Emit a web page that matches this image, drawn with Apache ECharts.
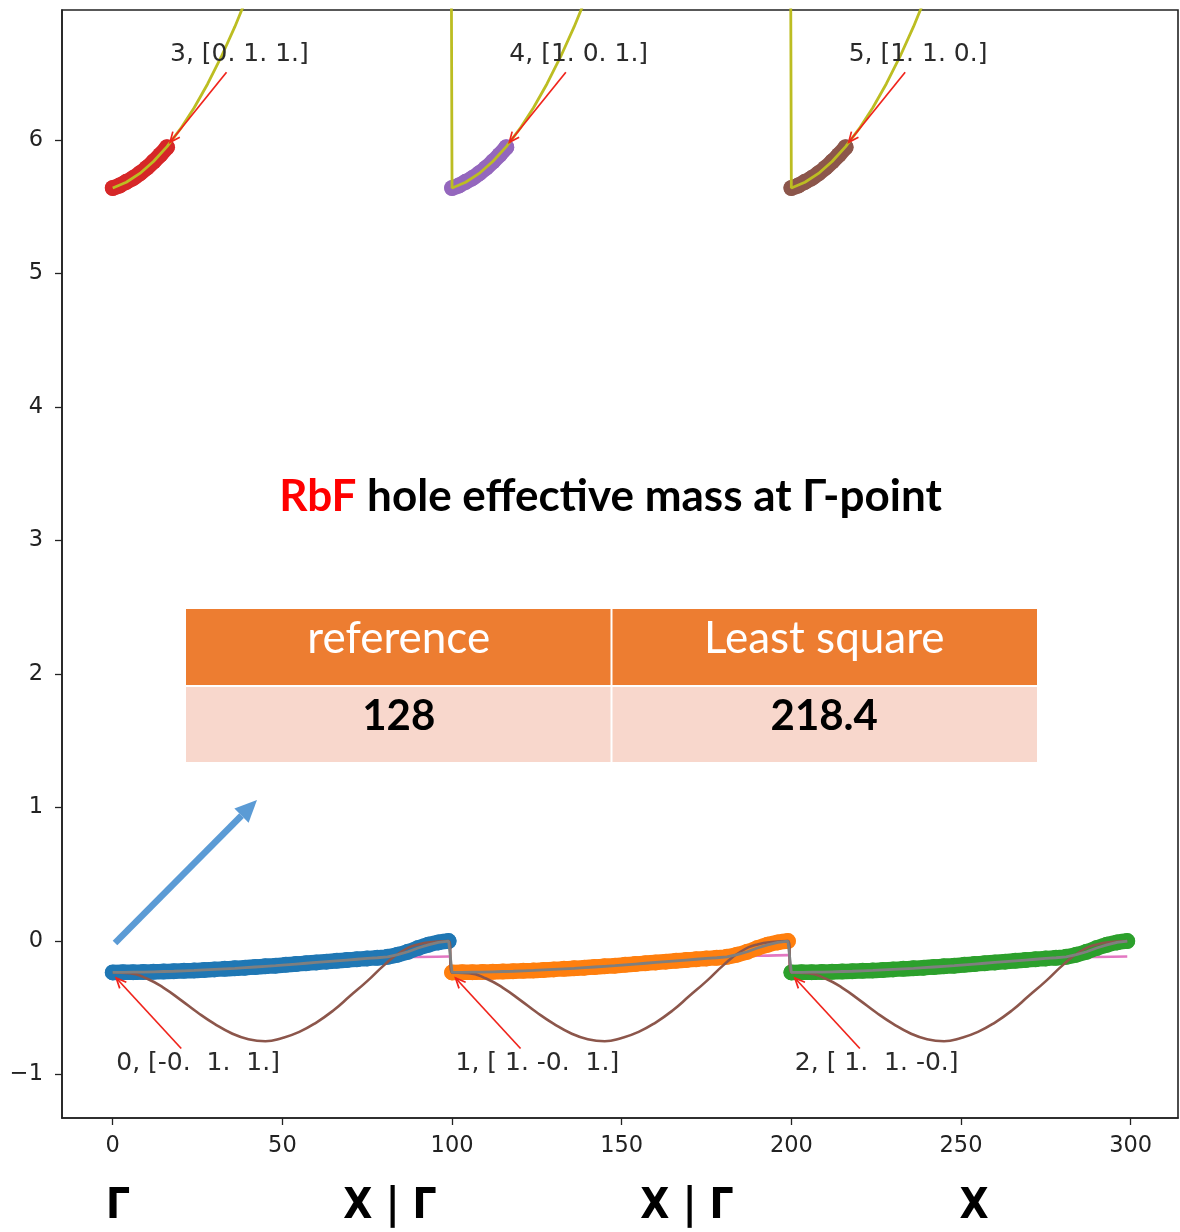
<!DOCTYPE html>
<html>
<head>
<meta charset="utf-8">
<script src="https://cdn.jsdelivr.net/npm/echarts@6/dist/echarts.min.js"></script>
<style>
  html, body { margin: 0; padding: 0; background: #fff; }
  #chart { width: 1180px; height: 1232px; }
</style>
</head>
<body>
<div id="chart"></div>
<script>
// ---- data ----------------------------------------------------------------
// start of each k-path segment along the x axis
const segStart = [0, 100, 200];

// lower valence band k-points (x offset inside a segment)
const lowX = [0, 3, 6, 9, 12, 15, 18, 21, 24, 27, 30, 33, 36, 39, 42, 45, 48, 51,
              54, 57, 60, 63, 66, 69, 72, 75, 78, 81, 84, 87, 90, 93, 96, 99];
const bandBlue = [-0.235, -0.234, -0.233, -0.232, -0.230, -0.228, -0.226, -0.223, -0.220,
                  -0.216, -0.212, -0.208, -0.204, -0.199, -0.194, -0.189, -0.184, -0.178,
                  -0.172, -0.166, -0.160, -0.154, -0.148, -0.142, -0.136, -0.130, -0.125,
                  -0.118, -0.102, -0.080, -0.052, -0.028, -0.010, 0.000];
const bandOrange = [-0.235, -0.234, -0.233, -0.232, -0.230, -0.228, -0.226, -0.223, -0.220,
                    -0.216, -0.212, -0.208, -0.204, -0.199, -0.194, -0.189, -0.184, -0.178,
                    -0.172, -0.166, -0.160, -0.154, -0.148, -0.142, -0.136, -0.130, -0.125,
                    -0.118, -0.102, -0.080, -0.052, -0.028, -0.010, 0.000];
const bandGreen = [-0.235, -0.234, -0.233, -0.232, -0.230, -0.228, -0.226, -0.223, -0.220,
                   -0.216, -0.212, -0.208, -0.204, -0.199, -0.194, -0.189, -0.184, -0.178,
                   -0.172, -0.166, -0.160, -0.154, -0.148, -0.142, -0.136, -0.130, -0.125,
                   -0.118, -0.102, -0.080, -0.052, -0.028, -0.010, 0.000];

// upper (conduction) band k-points near each segment start
const upX = [0, 2, 4, 6, 8, 10, 12, 14, 16];
const bandRed    = [5.640, 5.658, 5.686, 5.714, 5.750, 5.790, 5.838, 5.888, 5.945];
const bandPurple = [5.640, 5.658, 5.686, 5.714, 5.750, 5.790, 5.838, 5.888, 5.945];
const bandBrown  = [5.640, 5.658, 5.686, 5.714, 5.750, 5.790, 5.838, 5.888, 5.945];

// conduction band line per segment (runs off the top of the plot)
const oliveX   = [0, 4, 8, 12, 16, 20, 24, 28, 32, 36, 40, 44, 48, 99];
const oliveSeg = [5.640, 5.683, 5.749, 5.838, 5.950, 6.084, 6.241, 6.421, 6.623,
                  6.848, 7.096, 7.366, 7.660, 13.40];

// cosine-type model curve per segment
const cosX   = [0, 5, 10, 15, 20, 25, 30, 35, 40, 45, 50, 55, 60, 65, 70, 75, 80, 85, 90, 95, 99];
const cosSeg = [-0.235, -0.240, -0.280, -0.350, -0.440, -0.535, -0.620, -0.690, -0.735, -0.750,
                -0.725, -0.680, -0.610, -0.520, -0.410, -0.300, -0.180, -0.080, -0.025, -0.005, 0.000];

// parabolic fit per segment
const fitX = [0, 10, 20, 30, 40, 50, 60, 70, 80, 90, 99];
const fitA = [-0.235, -0.225, -0.212, -0.198, -0.183, -0.168, -0.153, -0.139, -0.127, -0.119, -0.115];
const fitB = [-0.235, -0.224, -0.210, -0.195, -0.179, -0.163, -0.147, -0.132, -0.119, -0.110, -0.105];
const fitC = [-0.235, -0.225, -0.212, -0.198, -0.183, -0.168, -0.153, -0.139, -0.127, -0.119, -0.115];

const xTicks = [0, 50, 100, 150, 200, 250, 300];
const yTicks = [-1, 0, 1, 2, 3, 4, 5, 6];

const lowLabels = ['0, [-0.  1.  1.]', '1, [ 1. -0.  1.]', '2, [ 1.  1. -0.]'];
const upLabels  = ['3, [0. 1. 1.]', '4, [1. 0. 1.]', '5, [1. 1. 0.]'];

const tableHead = ['reference', 'Least square'];
const tableVals = ['128', '218.4'];
const pathLabels = ['Γ', 'X | Γ', 'X | Γ', 'X'];

// ---- helpers ---------------------------------------------------------------
function pairs(xs, ys, off) { return xs.map((x, i) => [x + off, ys[i]]); }
function joinSegs(xs, list) {
  let out = [];
  list.forEach((ys, s) => { out = out.concat(pairs(xs, ys, segStart[s])); });
  return out;
}

const lowBands = [bandBlue, bandOrange, bandGreen];
const upBands  = [bandRed, bandPurple, bandBrown];
const lowColors = ['#1f77b4', '#ff7f0e', '#2ca02c'];
const upColors  = ['#d62728', '#9467bd', '#8c564b'];

// annotation anchors: first k-point of each lower band, last of each upper band
const annoData = [];
lowBands.forEach((b, s) => annoData.push([segStart[s] + lowX[0], b[0], 0, s]));
upBands.forEach((b, s) => annoData.push([segStart[s] + upX[upX.length - 1], b[b.length - 1], 1, s]));

const series = [];
// parabolic fit (under the k-point bands)
series.push({
  type: 'line', data: joinSegs(fitX, [fitA, fitB, fitC]), showSymbol: false, smooth: true,
  lineStyle: { color: '#e377c2', width: 2.6 }, z: 1
});
// k-points: dense markers drawn as a thick band
function addBand(xs, ys, off, color) {
  const d = pairs(xs, ys, off);
  series.push({
    type: 'line', data: d, showSymbol: false, smooth: true,
    lineStyle: { color: color, width: 15.5, cap: 'round', join: 'round' }, z: 2
  });
  series.push({
    type: 'scatter', data: d, symbolSize: 16,
    itemStyle: { color: color, opacity: 1 }, z: 2
  });
}
lowBands.forEach((b, s) => addBand(lowX, b, segStart[s], lowColors[s]));
upBands.forEach((b, s) => addBand(upX, b, segStart[s], upColors[s]));
// cosine model curve
series.push({
  type: 'line', data: joinSegs(cosX, [cosSeg, cosSeg, cosSeg]), showSymbol: false, smooth: true,
  lineStyle: { color: '#8c564b', width: 2.6 }, z: 3
});
// conduction band line
series.push({
  type: 'line', data: joinSegs(oliveX, [oliveSeg, oliveSeg, oliveSeg]), showSymbol: false,
  smooth: false, clip: true, lineStyle: { color: '#bcbd22', width: 2.8 }, z: 3
});
// valence band line through the k-points
series.push({
  type: 'line', data: joinSegs(lowX, lowBands), showSymbol: false, smooth: false,
  lineStyle: { color: '#7f7f7f', width: 2.8 }, z: 4
});
// labelled arrows pointing at band edges
series.push({
  type: 'custom', data: annoData, z: 6, clip: false,
  renderItem: function (params, api) {
    const p = api.coord([api.value(0), api.value(1)]);
    const upper = api.value(2) === 1;
    const s = api.value(3);
    const head = upper ? [p[0] + 3, p[1] - 5] : [p[0] + 3.5, p[1] + 5.5];
    const tail = upper ? [p[0] + 59.5, p[1] - 75] : [p[0] + 68.5, p[1] + 76];
    const txt  = upper ? [p[0] + 3, p[1] - 92.5] : [p[0] + 3.5, p[1] + 91];
    const ang = Math.atan2(head[1] - tail[1], head[0] - tail[0]);
    const L = 11, a = 0.42;
    const w1 = [head[0] - L * Math.cos(ang - a), head[1] - L * Math.sin(ang - a)];
    const w2 = [head[0] - L * Math.cos(ang + a), head[1] - L * Math.sin(ang + a)];
    const red = '#f0241c';
    return {
      type: 'group',
      children: [
        { type: 'line', shape: { x1: tail[0], y1: tail[1], x2: head[0], y2: head[1] },
          style: { stroke: red, lineWidth: 1.7 } },
        { type: 'polyline', shape: { points: [w1, head, w2] },
          style: { stroke: red, lineWidth: 1.7, fill: null } },
        { type: 'text', x: txt[0], y: txt[1],
          style: { text: (upper ? upLabels : lowLabels)[s], fill: '#2a2a2a',
                   font: '25px "DejaVu Sans"', align: 'left', verticalAlign: 'middle' } }
      ]
    };
  }
});

// ---- overlay: title, value table, arrow, path labels ----------------------
const orange = '#ed7d31', pale = '#f8d7cc';
const tX = 186, tY = 609, colW = 425.5, rowH = 76;
const graphic = [
  { type: 'text', x: 610.5, y: 497, z: 20,
    style: { text: '{r|RbF} hole effective mass at Γ-point',
             font: 'bold 44px Lato', fill: '#000', align: 'center', verticalAlign: 'middle',
             rich: { r: { font: 'bold 44px Lato', fill: '#ff0000' } } } },
  { type: 'rect', z: 20, shape: { x: tX, y: tY, width: colW * 2, height: rowH }, style: { fill: orange } },
  { type: 'rect', z: 20, shape: { x: tX, y: tY + rowH + 2, width: colW * 2, height: rowH - 1 }, style: { fill: pale } },
  { type: 'rect', z: 21, shape: { x: tX + colW - 1, y: tY, width: 2, height: rowH * 2 + 1 }, style: { fill: '#fff' } }
];
tableHead.forEach((h, i) => graphic.push({
  type: 'text', z: 22, x: tX + colW * (i + 0.5), y: tY + 30,
  style: { text: h, font: '44px Lato', fill: '#fff', align: 'center', verticalAlign: 'middle' }
}));
tableVals.forEach((v, i) => graphic.push({
  type: 'text', z: 22, x: tX + colW * (i + 0.5), y: tY + rowH + 31,
  style: { text: v, font: 'bold 42px Lato', fill: '#000', align: 'center', verticalAlign: 'middle' }
}));
// blue pointer arrow
const aFrom = [115, 943], aTo = [257, 800];
const aAng = Math.atan2(aTo[1] - aFrom[1], aTo[0] - aFrom[0]);
const aLen = 22, aHalf = 10;
const aBase = [aTo[0] - aLen * Math.cos(aAng), aTo[1] - aLen * Math.sin(aAng)];
graphic.push({ type: 'line', z: 20,
  shape: { x1: aFrom[0], y1: aFrom[1], x2: aBase[0], y2: aBase[1] },
  style: { stroke: '#5b9bd5', lineWidth: 6.5 } });
graphic.push({ type: 'polygon', z: 20,
  shape: { points: [aTo,
    [aBase[0] + aHalf * Math.sin(aAng), aBase[1] - aHalf * Math.cos(aAng)],
    [aBase[0] - aHalf * Math.sin(aAng), aBase[1] + aHalf * Math.cos(aAng)]] },
  style: { fill: '#5b9bd5' } });
// high-symmetry path labels under the axis
const pathCx = [118, 390, 687, 974];
pathLabels.forEach((t, i) => graphic.push({
  type: 'text', z: 20, x: pathCx[i], y: 1207,
  style: { text: t, font: 'bold 42px "Liberation Sans Narrow", "DejaVu Sans Condensed", sans-serif',
           fill: '#000', align: 'center', verticalAlign: 'middle' }
}));

const axisCol = '#222';
const option = {
  animation: false,
  backgroundColor: '#fff',
  grid: { left: 62, top: 10, width: 1116, height: 1108, show: true,
          borderColor: axisCol, borderWidth: 1.6, backgroundColor: 'transparent' },
  xAxis: {
    type: 'value', min: -14.95, max: 313.95,
    axisLine: { show: true, onZero: false, lineStyle: { color: axisCol, width: 1.6 } },
    axisTick: { show: true, length: 7, customValues: xTicks, lineStyle: { color: axisCol, width: 1.3 } },
    axisLabel: { customValues: xTicks, color: '#222', fontFamily: 'DejaVu Sans', fontSize: 22.5, margin: 17 },
    splitLine: { show: false }
  },
  yAxis: {
    type: 'value', min: -1.325, max: 6.973,
    axisLine: { show: true, onZero: false, lineStyle: { color: axisCol, width: 1.6 } },
    axisTick: { show: true, length: 7, customValues: yTicks, lineStyle: { color: axisCol, width: 1.3 } },
    axisLabel: { customValues: yTicks, color: '#222', fontFamily: 'DejaVu Sans', fontSize: 22.5, margin: 19,
                 formatter: v => (v < 0 ? '\u2212' + Math.abs(v) : String(v)) },
    splitLine: { show: false }
  },
  series: series,
  graphic: graphic
};

const chart = echarts.init(document.getElementById('chart'), null, { renderer: 'canvas' });
chart.setOption(option);
</script>
</body>
</html>
